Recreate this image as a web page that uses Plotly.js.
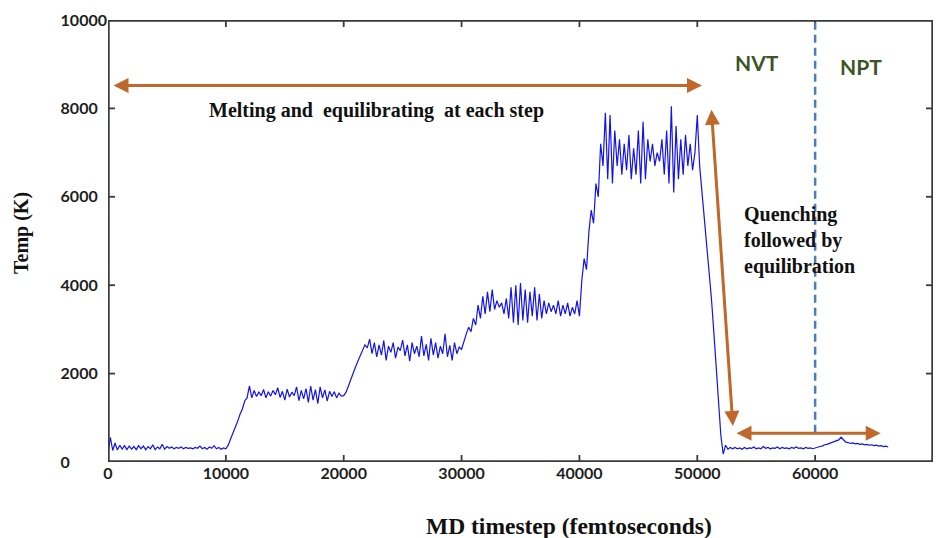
<!DOCTYPE html>
<html><head><meta charset="utf-8">
<script src="https://cdn.plot.ly/plotly-3.0.1.min.js"></script>
<style>html,body{margin:0;padding:0;background:#fff}</style>
</head><body><div id="chart" style="width:938px;height:538px"></div>
<script>
// MD timestep (fs)
const timestep = [
0,200,400,600,800,1000,1200,1400,1600,1800,
2000,2200,2400,2600,2800,3000,3200,3400,3600,3800,
4000,4200,4400,4600,4800,5000,5200,5400,5600,5800,
6000,6200,6400,6600,6800,7000,7200,7400,7600,7800,
8000,8200,8400,8600,8800,9000,9200,9400,9600,9800,
10000,10200,10400,10600,10800,11000,11200,11400,11600,11800,
12000,12200,12400,12600,12800,13000,13200,13400,13600,13800,
14000,14200,14400,14600,14800,15000,15200,15400,15600,15800,
16000,16200,16400,16600,16800,17000,17200,17400,17600,17800,
18000,18200,18400,18600,18800,19000,19200,19400,19600,19800,
20000,20200,20400,20600,20800,21000,21200,21400,21600,21800,
22000,22200,22400,22600,22800,23000,23200,23400,23600,23800,
24000,24200,24400,24600,24800,25000,25200,25400,25600,25800,
26000,26200,26400,26600,26800,27000,27200,27400,27600,27800,
28000,28200,28400,28600,28800,29000,29200,29400,29600,29800,
30000,30200,30400,30600,30800,31000,31200,31400,31600,31800,
32000,32200,32400,32600,32800,33000,33200,33400,33600,33800,
34000,34200,34400,34600,34800,35000,35200,35400,35600,35800,
36000,36200,36400,36600,36800,37000,37200,37400,37600,37800,
38000,38200,38400,38600,38800,39000,39200,39400,39600,39800,
40000,40200,40400,40600,40800,41000,41200,41400,41600,41800,
42000,42200,42400,42600,42800,43000,43200,43400,43600,43800,
44000,44200,44400,44600,44800,45000,45200,45400,45600,45800,
46000,46200,46400,46600,46800,47000,47200,47400,47600,47800,
48000,48200,48400,48600,48800,49000,49200,49400,49600,49800,
50000,50200,50400,50600,50800,51000,51200,51400,51600,51800,
52000,52200,52400,52600,52800,53000,53200,53400,53600,53800,
54000,54200,54400,54600,54800,55000,55200,55400,55600,55800,
56000,56200,56400,56600,56800,57000,57200,57400,57600,57800,
58000,58200,58400,58600,58800,59000,59200,59400,59600,59800,
60000,60200,60400,60600,60800,61000,61200,61400,61600,61800,
62000,62200,62400,62600,62800,63000,63200,63400,63600,63800,
64000,64200,64400,64600,64800,65000,65200,65400,65600,65800,
66000,66200
];
// Temperature (K)
const temperature = [
200,560,260,430,270,380,290,370,280,360,
290,350,280,370,300,360,280,350,300,390,
280,340,300,400,290,350,310,340,300,330,
310,340,300,330,310,320,300,330,310,360,
300,330,290,340,310,370,300,330,290,320,
300,380,520,640,800,920,1080,1200,1380,1450,
1720,1450,1620,1480,1580,1500,1640,1450,1590,1490,
1620,1520,1680,1460,1600,1400,1650,1470,1580,1500,
1700,1390,1620,1430,1660,1350,1720,1400,1640,1320,
1700,1450,1630,1380,1600,1480,1590,1450,1560,1490,
1500,1580,1720,1880,2000,2150,2280,2400,2500,2650,
2580,2780,2450,2700,2380,2650,2420,2750,2300,2620,
2480,2700,2350,2600,2520,2760,2400,2650,2280,2700,
2450,2620,2380,2850,2400,2660,2300,2800,2420,2700,
2350,2620,2450,2900,2380,2640,2300,2700,2450,2600,
2550,2700,2900,3050,2950,3250,3100,3550,3250,3750,
3350,3850,3400,3900,3450,3650,3500,3600,3350,3700,
3250,3950,3150,4000,3100,4050,3200,3900,3150,3850,
3300,3950,3200,3800,3250,3650,3350,3600,3400,3550,
3350,3650,3300,3550,3350,3600,3300,3500,3350,3650,
3300,4100,4600,4350,5200,5700,5400,6300,6000,7200,
6700,7900,6400,7850,6300,7500,6700,7300,6500,7200,
6600,7400,6400,7100,6500,7500,6300,7700,6400,7300,
6800,7200,6700,7000,6800,7300,6500,7500,6300,8050,
6100,7600,6400,7300,6500,7400,6700,7200,6600,7000,
7850,6700,6100,5600,5000,4300,3700,2950,2100,1350,
600,180,380,290,330,300,330,300,320,290,
330,300,320,310,340,300,320,300,350,310,
330,300,320,310,340,300,330,310,320,300,
330,310,340,310,320,300,330,310,320,300,
320,330,350,360,390,400,420,430,450,470,
500,560,510,450,440,420,430,410,420,400,
410,390,400,380,390,370,380,360,370,350,
360,340
];
const xRange = [0,70000];
const yRange = [0,10000];
const xTicks = [0,10000,20000,30000,40000,50000,60000,70000];
const yTicks = [0,2000,4000,6000,8000,10000];
const yTickLabels = ['0\u2007\u2007\u2007\u2007','2000\u2007','4000\u2007','6000\u2007','8000\u2007','10000'];
const xTitle = 'MD timestep (femtoseconds)';
const yTitle = 'Temp (K)';
const phaseBoundary = 60000;
const phaseLabels = ['NVT','NPT'];
const stageLabels = ['Melting and  equilibrating  at each step','Quenching<br>followed by<br>equilibration'];

const W = 938, H = 538, M = {l:108, r:5, t:20, b:76};
const plotW = W - M.l - M.r, plotH = H - M.t - M.b;
const arrowColor = '#c0672b';
const axisColor = '#3a3a3a';
const tickPx = 7;
const serifBold = {family:'Liberation Serif', size:20, color:'#111111', weight:'bold'};
const sansBold = {family:'Lato', size:16, color:'#1e1e1e', weight:'bold'};
const phaseFont = {family:'Lato', size:21, color:'#3d5426', weight:'bold'};

const trace = {
  x: timestep, y: temperature, type:'scatter', mode:'lines',
  line:{color:'#1414e8', width:1.2}, hoverinfo:'skip'
};

// box frame (outer edge) built from the axis ranges
const frameTrace = {
  x:[xRange[0],xRange[1],xRange[1],xRange[0],xRange[0]],
  y:[yRange[0],yRange[0],yRange[1],yRange[1],yRange[0]],
  type:'scatter', mode:'lines', line:{color:axisColor, width:3.4}, hoverinfo:'skip'
};
// inward tick marks on all four sides, built from the tick arrays
const tlx = tickPx/plotH*(yRange[1]-yRange[0]);
const tly = tickPx/plotW*(xRange[1]-xRange[0]);
const tkX = [], tkY = [];
xTicks.slice(1,-1).forEach(function(v){
  tkX.push(v,v,null,v,v,null);
  tkY.push(yRange[0],yRange[0]+tlx,null,yRange[1]-tlx,yRange[1],null);
});
yTicks.slice(1,-1).forEach(function(v){
  tkX.push(xRange[0],xRange[0]+tly,null,xRange[1]-tly,xRange[1],null);
  tkY.push(v,v,null,v,v,null);
});
const tickTrace = {x:tkX, y:tkY, type:'scatter', mode:'lines', line:{color:axisColor, width:1.8}, hoverinfo:'skip', connectgaps:false};

function arrow(x0,y0,x1,y1){
  return {x:x1,y:y1,ax:x0,ay:y0,xref:'x',yref:'y',axref:'x',ayref:'y',text:'',
    showarrow:true,arrowhead:2,startarrowhead:2,arrowside:'end+start',
    arrowsize:1,startarrowsize:1,arrowwidth:3,arrowcolor:arrowColor,standoff:0,startstandoff:0};
}

const layout = {
  width:W, height:H, margin:M,
  paper_bgcolor:'#ffffff', plot_bgcolor:'#ffffff',
  showlegend:false,
  xaxis:{
    range:xRange, tickmode:'array', tickvals:xTicks, ticktext:xTicks.map(String),
    ticks:'', showline:false, showgrid:false, zeroline:false, tickfont:sansBold
  },
  yaxis:{
    range:yRange, tickmode:'array', tickvals:yTicks, ticktext:yTickLabels,
    ticks:'', showline:false, showgrid:false, zeroline:false, tickfont:sansBold
  },
  shapes:[{type:'line', xref:'x', yref:'y', x0:phaseBoundary, x1:phaseBoundary, y0:660, y1:9940,
    line:{color:'#4a7ebb', width:2.5, dash:'8px,5px'}}],
  annotations:[
    arrow(340,8516,50400,8516),
    arrow(53030,780,51200,7970),
    arrow(53200,650,65560,650),
    {x:22740, y:7950, xref:'x', yref:'y', text:stageLabels[0], showarrow:false, font:serifBold, xanchor:'center', yanchor:'middle'},
    {x:53790, y:5020, xref:'x', yref:'y', text:stageLabels[1], showarrow:false, font:serifBold, align:'left', xanchor:'left', yanchor:'middle'},
    {x:55065, y:9037, xref:'x', yref:'y', text:phaseLabels[0], showarrow:false, font:phaseFont},
    {x:63890, y:8947, xref:'x', yref:'y', text:phaseLabels[1], showarrow:false, font:phaseFont},
    {x:(569-M.l)/plotW, y:-(526-M.t-plotH)/plotH, xref:'paper', yref:'paper', text:xTitle, showarrow:false,
      font:{family:'Liberation Serif', size:23.5, color:'#111111', weight:'bold'}, xanchor:'center', yanchor:'middle'},
    {x:-(M.l-22)/plotW, y:(M.t+plotH-233)/plotH, xref:'paper', yref:'paper', text:yTitle, showarrow:false, textangle:-90,
      font:{family:'Liberation Serif', size:20, color:'#111111', weight:'bold'}, xanchor:'center', yanchor:'middle'}
  ]
};
Plotly.newPlot('chart',[trace,frameTrace,tickTrace],layout,{displayModeBar:false});
</script></body></html>
